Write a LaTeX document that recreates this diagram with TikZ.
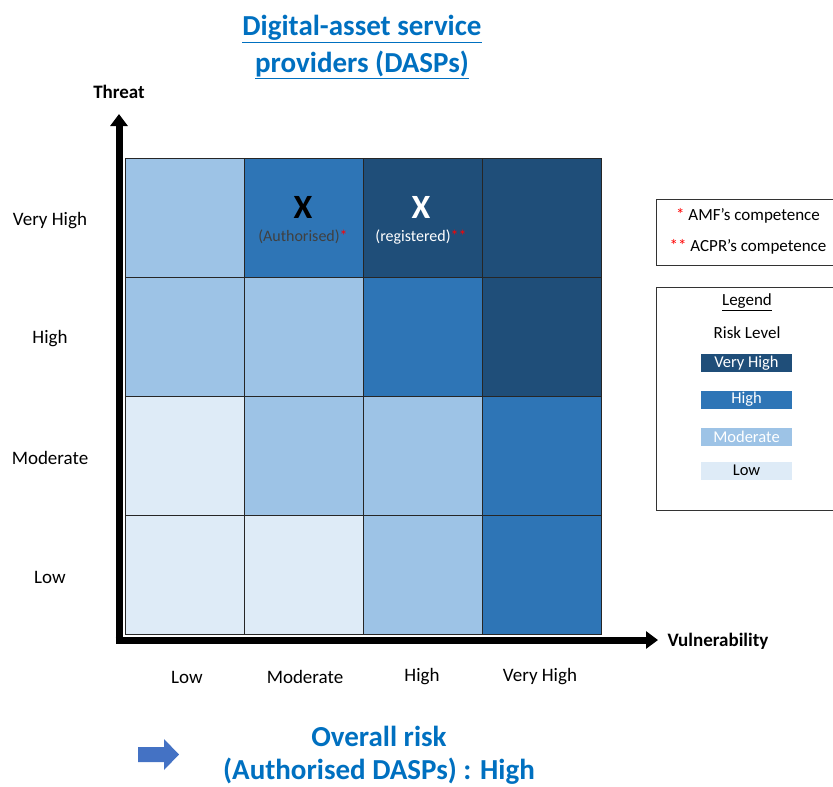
\documentclass[tikz,border=0pt]{standalone}
\usepackage{fontspec}
\setmainfont{Carlito}
\usetikzlibrary{arrows.meta}
\definecolor{lvlVH}{HTML}{1F4E79}
\definecolor{lvlH}{HTML}{2E75B6}
\definecolor{lvlM}{HTML}{9DC3E6}
\definecolor{lvlL}{HTML}{DEEBF7}
\definecolor{titleblue}{HTML}{0070C0}
\definecolor{arrowblue}{HTML}{4472C4}
\definecolor{mark}{HTML}{FF0000}
\begin{document}
\begin{tikzpicture}[x=1pt,y=-1pt,
  cell/.style={draw=black!85,line width=0.9pt,minimum width=119pt,minimum height=119pt,inner sep=0pt,anchor=center},
  axis/.style={line width=7pt,-{Triangle[width=17pt,length=12pt]}},
  lbl/.style={font=\fontsize{19}{21}\selectfont},
  axlbl/.style={font=\bfseries\fontsize{19}{21}\selectfont},
  heading/.style={font=\bfseries\fontsize{29}{34}\selectfont,text=titleblue},
  boxtext/.style={font=\fontsize{17}{19}\selectfont},
  swatch/.style={minimum width=91pt,minimum height=18pt,inner sep=0pt,font=\fontsize{16.5}{18}\selectfont},
  frame/.style={draw=black!80,line width=0.9pt,inner sep=0pt}
]
\useasboundingbox (0,0) rectangle (833,787);

% title
\node[heading,align=center] (title) at (362,47)
  {\underline{Digital-asset service}\\[3pt]\underline{providers (DASPs)}};

% risk matrix: rows from Very High (top) to Low (bottom)
\foreach \r/\y/\a/\b/\c/\d in {1/217.5/lvlM/lvlH/lvlVH/lvlVH,
                               2/336.5/lvlM/lvlM/lvlH/lvlVH,
                               3/455.5/lvlL/lvlM/lvlM/lvlH,
                               4/574.5/lvlL/lvlL/lvlM/lvlH}{
  \node[cell,fill=\a] (c\r1) at (184.5,\y) {};
  \node[cell,fill=\b] (c\r2) at (303.5,\y) {};
  \node[cell,fill=\c] (c\r3) at (422.5,\y) {};
  \node[cell,fill=\d] (c\r4) at (541.5,\y) {};
}

% markers
\node[font=\bfseries\fontsize{34}{34}\selectfont] (xa) at (303,207) {X};
\node[font=\fontsize{16}{18}\selectfont,text=black!75] (ta) at (303,237) {(Authorised)\textcolor{mark}{*}};
\node[font=\bfseries\fontsize{34}{34}\selectfont,text=white] (xr) at (421,207) {X};
\node[font=\fontsize{16}{18}\selectfont,text=white] (tr) at (421,237) {(registered)\textcolor{mark}{**}};

% axes
\coordinate (origin) at (119,640);
\coordinate (ytip) at (119,114);
\coordinate (xtip) at (658,640);
\draw[axis] (115.5,640) -- (xtip);
\draw[axis] (119,643.5) -- (ytip);
\node[axlbl] (threat) at (119,92) {Threat};
\node[axlbl,anchor=west] (vuln) at (664,641) {Vulnerability};

% threat levels
\node[lbl] (yVH) at (50,221) {Very High};
\node[lbl] (yH)  at (50,339) {High};
\node[lbl] (yM)  at (50,458) {Moderate};
\node[lbl] (yL)  at (50,577) {Low};

% vulnerability levels
\node[lbl] (xL)  at (187,677) {Low};
\node[lbl] (xM)  at (305,677) {Moderate};
\node[lbl] (xH)  at (422,677) {High};
\node[lbl] (xVH) at (540,677) {Very High};

% competence note
\node[frame,minimum width=177pt,minimum height=66pt,anchor=north west] (note) at (656,199) {};
\node[boxtext] (amf) at (748,216) {\textcolor{mark}{*} AMF’s competence};
\node[boxtext] (acpr) at (748,247) {\textcolor{mark}{**} ACPR’s competence};

% legend
\node[frame,minimum width=177pt,minimum height=223pt,anchor=north west] (legend) at (656,287) {};
\node[boxtext] (lgtitle) at (747,302) {\underline{Legend}};
\node[boxtext] (lglevel) at (747,333) {Risk Level};
\node[swatch,fill=lvlVH,text=white] (sVH) at (746.5,363) {Very High};
\node[swatch,fill=lvlH,text=white]  (sH)  at (746.5,399.5) {High};
\node[swatch,fill=lvlM,text=white]  (sM)  at (746.5,436.5) {Moderate};
\node[swatch,fill=lvlL,text=black]  (sL)  at (746.5,470.5) {Low};

% overall risk
\fill[arrowblue] (138,747) -- (164,747) -- (164,739) -- (179,754.5) -- (164,770)
  -- (164,762) -- (138,762) -- cycle;
\node[heading,align=center,inner ysep=0pt] (overall) at (379,755)
  {Overall risk\\[-1pt](Authorised DASPs) : High};
\end{tikzpicture}
\end{document}
